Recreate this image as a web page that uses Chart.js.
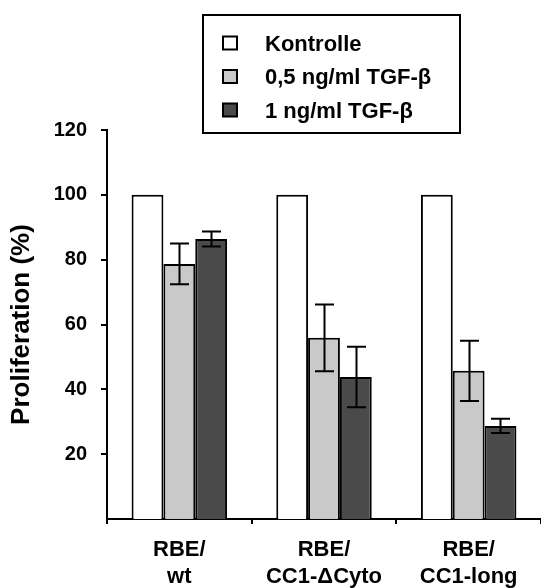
<!DOCTYPE html>
<html>
<head>
<meta charset="utf-8">
<script src="https://cdn.jsdelivr.net/npm/chart.js@4.4.1/dist/chart.umd.min.js"></script>
<style>
    html, body { margin: 0; padding: 0; background: #fff; }
    #wrap { width: 541px; height: 588px; position: relative; }
</style>
</head>
<body>
<div id="wrap"><canvas id="prolifChart"></canvas></div>
<script>
// data
const categories = [['RBE/', 'wt'], ['RBE/', 'CC1-ΔCyto'], ['RBE/', 'CC1-long']];
const seriesNames = ['Kontrolle', '0,5 ng/ml TGF-β', '1 ng/ml TGF-β'];
const kontrolle = [100, 100, 100];
const tgf05 = [78.7, 55.9, 45.7];
const tgf1 = [86.4, 43.8, 28.7];
const errTgf05 = [6.3, 10.3, 9.3];
const errTgf1 = [2.3, 9.3, 2.2];
const yTicks = [20, 40, 60, 80, 100, 120];

const colors = {
    white: '#ffffff',
    light: '#c9c9c9',
    dark: '#4a4a4a',
    black: '#000000'
};

Chart.defaults.font.family = '"Liberation Sans", Arial, sans-serif';
Chart.defaults.font.weight = 'bold';
Chart.defaults.color = colors.black;

// error bars on top of the bars
const errorBars = {
    id: 'errorBars',
    afterDatasetsDraw(chart) {
        const ctx = chart.ctx;
        const yScale = chart.scales.y;
        ctx.save();
        ctx.strokeStyle = colors.black;
        ctx.lineWidth = 2;
        chart.data.datasets.forEach((ds, i) => {
            if (!ds.errors) return;
            const meta = chart.getDatasetMeta(i);
            meta.data.forEach((bar, j) => {
                const v = ds.data[j];
                const e = ds.errors[j];
                const yTop = yScale.getPixelForValue(v + e);
                const yBot = yScale.getPixelForValue(v - e);
                const x = Math.round(bar.x) + 0.5;
                const cap = 9.5;
                ctx.beginPath();
                ctx.moveTo(x, yTop);
                ctx.lineTo(x, yBot);
                ctx.moveTo(x - cap, yTop);
                ctx.lineTo(x + cap, yTop);
                ctx.moveTo(x - cap, yBot);
                ctx.lineTo(x + cap, yBot);
                ctx.stroke();
            });
        });
        ctx.restore();
    }
};

// boxed legend at the top
const boxLegend = {
    id: 'boxLegend',
    afterDraw(chart) {
        const ctx = chart.ctx;
        ctx.save();
        ctx.lineWidth = 2;
        ctx.strokeStyle = colors.black;
        ctx.strokeRect(203, 15, 257, 118);
        ctx.font = 'bold 22px "Liberation Sans", Arial, sans-serif';
        ctx.textBaseline = 'alphabetic';
        ctx.textAlign = 'left';
        chart.data.datasets.forEach((ds, i) => {
            const cy = 43 + i * 33.5;
            ctx.fillStyle = ds.backgroundColor;
            ctx.fillRect(223, cy - 6.5, 14, 13);
            ctx.strokeRect(223, cy - 6.5, 14, 13);
            ctx.fillStyle = colors.black;
            ctx.fillText(ds.label, 265, cy + 7.5);
        });
        ctx.restore();
    }
};

const ctx = document.getElementById('prolifChart').getContext('2d');
new Chart(ctx, {
    type: 'bar',
    data: {
        labels: categories,
        datasets: [{
            label: seriesNames[0],
            data: kontrolle,
            backgroundColor: colors.white,
            borderColor: colors.black,
            borderWidth: 2
        }, {
            label: seriesNames[1],
            data: tgf05,
            errors: errTgf05,
            backgroundColor: colors.light,
            borderColor: colors.black,
            borderWidth: 2
        }, {
            label: seriesNames[2],
            data: tgf1,
            errors: errTgf1,
            backgroundColor: colors.dark,
            borderColor: colors.black,
            borderWidth: 2
        }]
    },
    options: {
        responsive: true,
        maintainAspectRatio: false,
        animation: false,
        layout: { padding: { top: 130, left: 0, right: 0, bottom: 0 } },
        datasets: {
            bar: { categoryPercentage: 0.66, barPercentage: 1.0 }
        },
        scales: {
            x: {
                afterFit: (scale) => { scale.height = 69; },
                grid: {
                    display: true,
                    drawOnChartArea: false,
                    drawTicks: true,
                    tickLength: 5,
                    color: colors.black,
                    lineWidth: 2
                },
                border: { display: true, color: colors.black, width: 2 },
                ticks: {
                    color: colors.black,
                    font: { size: 22, weight: 'bold', lineHeight: 1.2 },
                    padding: 13,
                    maxRotation: 0
                }
            },
            y: {
                min: 0,
                max: 120,
                afterFit: (scale) => { scale.width = 107; },
                afterBuildTicks: (scale) => {
                    scale.ticks = yTicks.map(v => ({ value: v }));
                },
                grid: {
                    display: true,
                    drawOnChartArea: false,
                    drawTicks: true,
                    tickLength: 6,
                    color: colors.black,
                    lineWidth: 2
                },
                border: { display: true, color: colors.black, width: 2 },
                ticks: {
                    color: colors.black,
                    font: { size: 20, weight: 'bold' },
                    padding: 14
                },
                title: {
                    display: true,
                    text: 'Proliferation (%)',
                    color: colors.black,
                    font: { size: 26, weight: 'bold' },
                    padding: { top: 6, bottom: 0 }
                }
            }
        },
        plugins: {
            legend: { display: false },
            tooltip: { enabled: false }
        }
    },
    plugins: [errorBars, boxLegend]
});
</script>
</body>
</html>
